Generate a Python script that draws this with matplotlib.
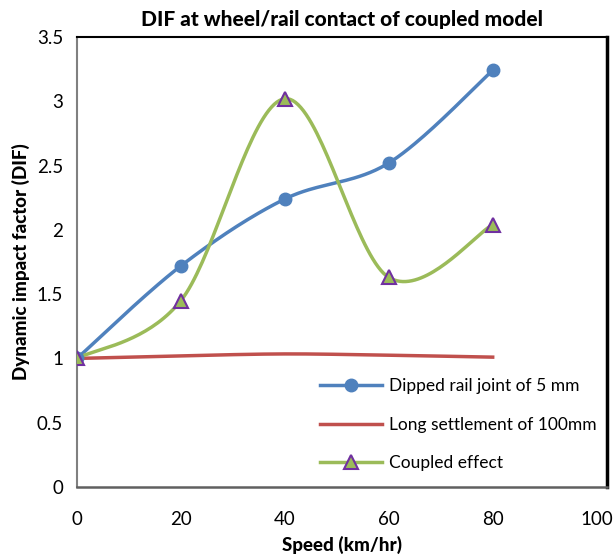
import numpy as np
import matplotlib
matplotlib.use("Agg")
import matplotlib.pyplot as plt
from matplotlib.lines import Line2D

plt.rcParams['font.family'] = ['Lato', 'DejaVu Sans']

speed = [0, 20, 40, 60, 80]
dipped_joint = [1.0, 1.72, 2.24, 2.52, 3.24]
long_settlement = [1.0, 1.02, 1.035, 1.025, 1.01]
coupled = [1.0, 1.45, 3.02, 1.63, 2.04]

labels = ["Dipped rail joint of 5 mm", "Long settlement of 100mm", "Coupled effect"]


def smooth(xs, ys, n=40):
    # Excel-style smoothed line: cubic Bezier with Catmull-Rom control points
    p = np.column_stack([xs, ys]).astype(float)
    ext = np.vstack([p[0], p, p[-1]])
    out = []
    t = np.linspace(0, 1, n)[:, None]
    for i in range(len(p) - 1):
        p0, p1, p2, p3 = ext[i], ext[i + 1], ext[i + 2], ext[i + 3]
        c1 = p1 + (p2 - p0) / 6
        c2 = p2 - (p3 - p1) / 6
        seg = ((1 - t) ** 3) * p1 + 3 * ((1 - t) ** 2) * t * c1 + 3 * (1 - t) * t ** 2 * c2 + t ** 3 * p2
        out.append(seg if i == 0 else seg[1:])
    pts = np.vstack(out)
    return pts[:, 0], pts[:, 1]


blue, red, green, purple = "#4F81BD", "#C0504D", "#9BBB59", "#7030A0"

fig = plt.figure(figsize=(6.13, 5.57), dpi=100)
ax = fig.add_axes([77 / 613, 70 / 557, 530 / 613, 450 / 557])

x, y = smooth(speed, dipped_joint)
ax.plot(x, y, color=blue, lw=2.5, zorder=3)
ax.plot(speed, dipped_joint, "o", color=blue, ms=9, zorder=4)

x, y = smooth(speed, long_settlement)
ax.plot(x, y, color=red, lw=2.5, zorder=3)

x, y = smooth(speed, coupled)
ax.plot(x, y, color=green, lw=2.5, zorder=3)
ax.plot(speed, coupled, "^", color=green, mec=purple, mew=1.5, ms=10, zorder=4)

ax.set_xlim(0, 102)
ax.set_ylim(0, 3.5)
ax.set_xticks([0, 20, 40, 60, 80, 100])
ax.set_yticks([0, 0.5, 1, 1.5, 2, 2.5, 3, 3.5])
ax.set_yticklabels(["0", "0.5", "1", "1.5", "2", "2.5", "3", "3.5"])
ax.tick_params(length=0, labelsize=13.5, pad=10)
ax.tick_params(axis="x", pad=17)

for s in ["top", "right"]:
    ax.spines[s].set_color("black")
ax.spines["right"].set_linewidth(2.5)
ax.spines["top"].set_linewidth(1.5)
ax.spines["left"].set_color("#808080")
ax.spines["left"].set_linewidth(1.5)
ax.spines["bottom"].set_color("#606060")
ax.spines["bottom"].set_linewidth(1.8)

ax.set_title("DIF at wheel/rail contact of coupled model", fontsize=15, fontweight="black", pad=8)
ax.set_xlabel("Speed (km/hr)", fontsize=13.5, fontweight="black", labelpad=6)
ax.set_ylabel("Dynamic impact factor (DIF)", fontsize=13.5, fontweight="black", labelpad=5)

handles = [
    Line2D([], [], color=blue, lw=2.5, marker="o", ms=9),
    Line2D([], [], color=red, lw=2.5),
    Line2D([], [], color=green, lw=2.5, marker="^", ms=10, mfc=green, mec=purple, mew=1.5),
]
ax.legend(handles, labels, loc="lower right", bbox_to_anchor=(1.01, 0.0), frameon=False,
          fontsize=12.5, handlelength=3.6, labelspacing=1.3, handletextpad=0.4)

fig.savefig("out.png", dpi=100)
